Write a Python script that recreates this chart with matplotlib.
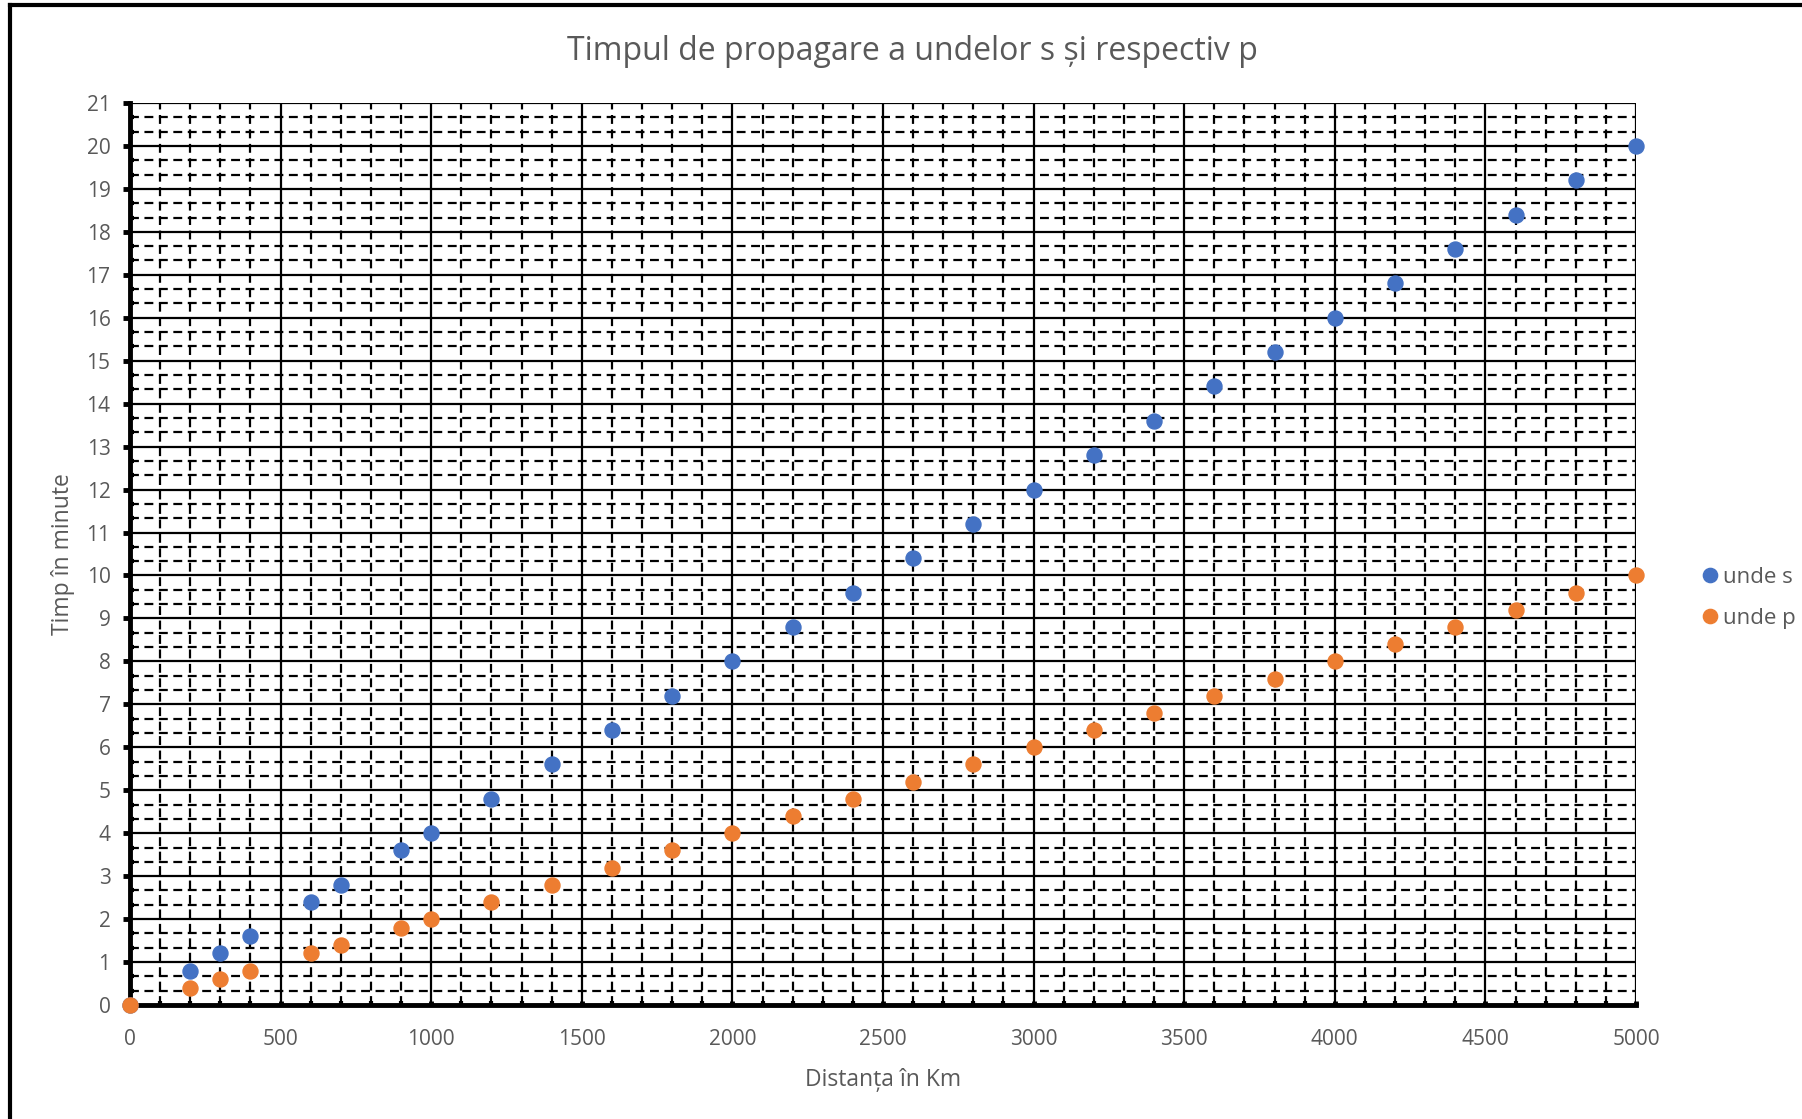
import matplotlib
matplotlib.use("Agg")
import matplotlib.pyplot as plt
from matplotlib.lines import Line2D
from matplotlib.ticker import MultipleLocator

plt.rcParams['font.family'] = ['Open Sans', 'DejaVu Sans']

# distance in km and travel times in minutes
distance = [0, 200, 300, 400, 600, 700, 900, 1000, 1200, 1400, 1600, 1800, 2000,
            2200, 2400, 2600, 2800, 3000, 3200, 3400, 3600, 3800, 4000, 4200,
            4400, 4600, 4800, 5000]
unde_s = [0, 0.8, 1.2, 1.6, 2.4, 2.8, 3.6, 4, 4.8, 5.6, 6.4, 7.2, 8,
          8.8, 9.6, 10.4, 11.2, 12, 12.8, 13.6, 14.4, 15.2, 16, 16.8,
          17.6, 18.4, 19.2, 20]
unde_p = [0, 0.4, 0.6, 0.8, 1.2, 1.4, 1.8, 2, 2.4, 2.8, 3.2, 3.6, 4,
          4.4, 4.8, 5.2, 5.6, 6, 6.4, 6.8, 7.2, 7.6, 8, 8.4,
          8.8, 9.2, 9.6, 10]

gray = "#595959"

fig = plt.figure(figsize=(18.02, 11.19), dpi=100)
ax = fig.add_axes([130 / 1802, 1 - 1005 / 1119, (1636 - 130) / 1802, (1005 - 103) / 1119])

ax.plot(distance, unde_s, "o", color="#4472C4", ms=10.8, label="unde s",
        clip_on=False, zorder=4)
ax.plot(distance, unde_p, "o", color="#ED7D31", ms=10.8, label="unde p",
        clip_on=False, zorder=5)

ax.set_xlim(0, 5000)
ax.set_ylim(0, 21)
ax.xaxis.set_major_locator(MultipleLocator(500))
ax.xaxis.set_minor_locator(MultipleLocator(100))
ax.yaxis.set_major_locator(MultipleLocator(1))
ax.yaxis.set_minor_locator(MultipleLocator(1 / 3))

ax.grid(which="major", color="black", lw=1.6, zorder=1)
ax.grid(which="minor", color="black", lw=1.6, linestyle=(0, (4, 2.5)), zorder=1)

for side in ["top", "right"]:
    ax.spines[side].set_visible(False)
ax.spines["left"].set_linewidth(3.5)
ax.spines["bottom"].set_linewidth(3.5)

ax.tick_params(axis="y", which="major", direction="out", length=5, width=3.5,
               labelsize=15, labelcolor=gray, pad=9)
ax.tick_params(axis="y", which="minor", direction="in", length=3, width=3)
ax.tick_params(axis="x", which="major", direction="in", length=3, width=3.5,
               labelsize=15, labelcolor=gray, pad=17)
ax.tick_params(axis="x", which="minor", direction="in", length=3, width=3)

# title is centred on the whole chart area, not on the plot
fig.text(912 / 1802, 1 - 52 / 1119, "Timpul de propagare a undelor s și respectiv p",
         fontsize=23, color=gray, ha="center", va="center")
ax.set_xlabel("Distanța în Km", fontsize=16.5, color=gray, labelpad=13)
ax.set_ylabel("Timp în minute", fontsize=16.5, color=gray, labelpad=8)

fig.legend(loc="center left", bbox_to_anchor=(1699 / 1802, 1 - 598 / 1119),
           frameon=False, fontsize=16, labelcolor=gray, handletextpad=0.1,
           handlelength=1.0, borderpad=0, borderaxespad=0,
           labelspacing=0.9, markerscale=0.95)

# page border on the left and top
fig.add_artist(Line2D([10 / 1802, 10 / 1802], [0, 1 - 5 / 1119], color="black", lw=3))
fig.add_artist(Line2D([10 / 1802, 1], [1 - 5 / 1119, 1 - 5 / 1119], color="black", lw=3))

plt.savefig("out.png", dpi=100)
